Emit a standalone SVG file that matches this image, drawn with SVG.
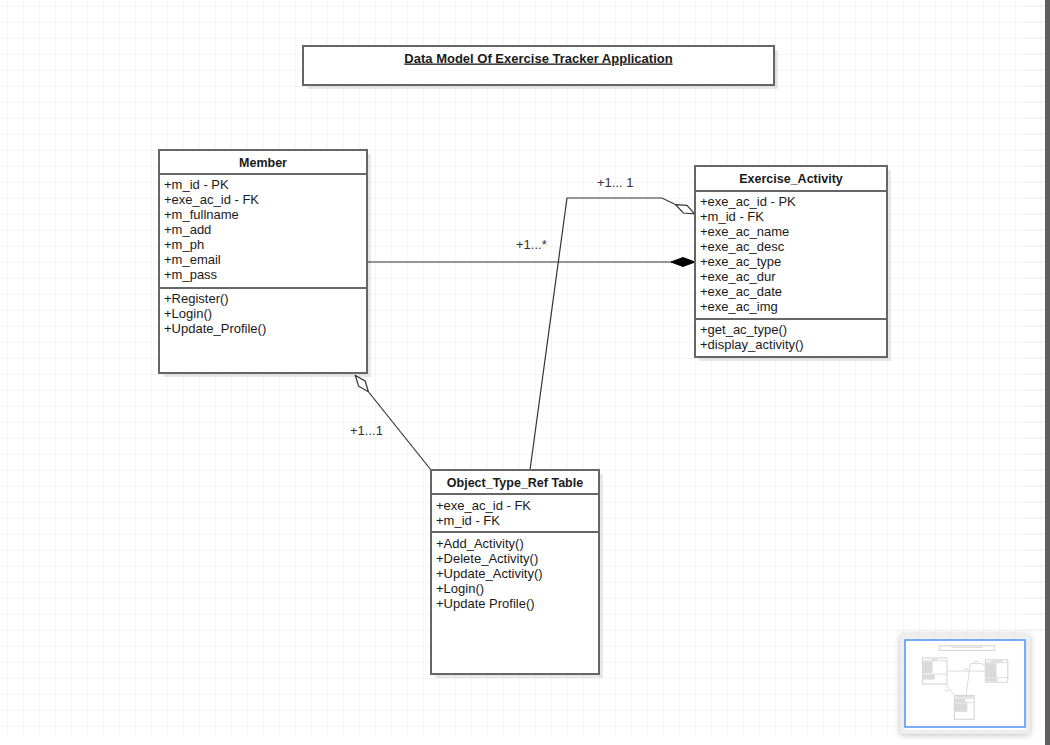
<svg xmlns="http://www.w3.org/2000/svg" width="1050" height="745" viewBox="0 0 1050 745">
  <style>
    .box { fill: #ffffff; stroke: #666666; stroke-width: 2; }
    .sep { stroke: #666666; stroke-width: 2; }
    .shadow { fill: #000000; fill-opacity: 0.09; }
    .hdr { font-family: "Liberation Sans", Arial, sans-serif; font-size: 12.5px; font-weight: bold; fill: #1a1a1a; text-anchor: middle; }
    .ttl { font-size: 13px; }
    .txt { font-family: "Liberation Sans", Arial, sans-serif; font-size: 13px; fill: #1a1a1a; }
    .lbl { font-family: "Liberation Sans", Arial, sans-serif; font-size: 13px; fill: #333333; }
    .conn { fill: none; stroke: #333333; stroke-width: 1.2; }
    .mini { fill: #ffffff; stroke: #d4d4d4; stroke-width: 9; }
    .minil { fill: none; stroke: #d8d8d8; stroke-width: 8; }
    .minit { fill: #dadada; }
  </style>
  <defs>
    <pattern id="grid" x="7" y="6" width="16" height="16" patternUnits="userSpaceOnUse">
      <path d="M0,0 H16 M0,0 V16" fill="none" stroke="#ebebeb" stroke-width="1"/>
    </pattern>
    <marker id="openDiamond" viewBox="0 0 22 10" refX="22" refY="5" markerWidth="22" markerHeight="10" markerUnits="userSpaceOnUse" orient="auto">
      <path d="M0.5,5 L11,0.8 L21.5,5 L11,9.2 Z" fill="#ffffff" stroke="#333333" stroke-width="1.2"/>
    </marker>
    <marker id="filledDiamond" viewBox="0 0 24 10" refX="24" refY="5" markerWidth="24" markerHeight="10" markerUnits="userSpaceOnUse" orient="auto">
      <path d="M0,5 L12,0.5 L24,5 L12,9.5 Z" fill="#000000" stroke="#000000" stroke-width="1"/>
    </marker>
    <filter id="panelShadow" x="-20%" y="-20%" width="140%" height="140%">
      <feGaussianBlur stdDeviation="3"/>
    </filter>
  </defs>

  <!-- background grid -->
  <rect x="0" y="0" width="1050" height="745" fill="#ffffff"/>
  <rect x="0" y="0" width="1024" height="735" fill="url(#grid)"/>
  <path d="M1024,6 H1045 M1024,22 H1045 M1024,38 H1045 M1024,54 H1045 M1024,70 H1045 M1024,86 H1045 M1024,102 H1045 M1024,118 H1045 M1024,134 H1045 M1024,150 H1045 M1024,166 H1045 M1024,182 H1045 M1024,198 H1045 M1024,214 H1045 M1024,230 H1045 M1024,246 H1045 M1024,262 H1045 M1024,278 H1045 M1024,294 H1045 M1024,310 H1045 M1024,326 H1045 M1024,342 H1045 M1024,358 H1045 M1024,374 H1045 M1024,390 H1045 M1024,406 H1045 M1024,422 H1045 M1024,438 H1045 M1024,454 H1045 M1024,470 H1045 M1024,486 H1045 M1024,502 H1045 M1024,518 H1045 M1024,534 H1045 M1024,550 H1045 M1024,566 H1045 M1024,582 H1045 M1024,598 H1045 M1024,614 H1045 M1024,630 H1045" stroke="#ebebeb" stroke-width="1"/>
  <rect x="1045" y="0" width="5" height="745" fill="#5f5f5f"/>

  <!-- connectors -->
  <g id="connectors">
    <path id="conn-member-exercise" class="conn" d="M367,262 L695,262" marker-end="url(#filledDiamond)"/>
    <path id="conn-object-exercise" class="conn" d="M530,470 L567,198 L662,198 L695,214" marker-end="url(#openDiamond)"/>
    <path id="conn-object-member" class="conn" d="M431,470 L355,375" marker-end="url(#openDiamond)"/>
    <text class="lbl" x="516" y="249">+1...*</text>
    <text class="lbl" x="597" y="187">+1... 1</text>
    <text class="lbl" x="350" y="435">+1...1</text>
  </g>

  <!-- title -->
  <g id="title">
    <rect class="shadow" x="307" y="50" width="471" height="39"/>
    <rect class="box" x="303" y="46" width="471" height="39"/>
    <text class="hdr ttl" x="538.5" y="62.5" text-decoration="underline">Data Model Of Exercise Tracker Application</text>
  </g>

  <!-- Member -->
  <g id="member">
    <rect class="shadow" x="163" y="154" width="208" height="223"/>
    <rect class="box" x="159" y="150" width="208" height="223"/>
    <line class="sep" x1="159" y1="174" x2="367" y2="174"/>
    <line class="sep" x1="159" y1="288" x2="367" y2="288"/>
    <text class="hdr" x="263" y="167">Member</text>
    <text class="txt" x="164" y="189">+m_id - PK</text>
    <text class="txt" x="164" y="204">+exe_ac_id - FK</text>
    <text class="txt" x="164" y="219">+m_fullname</text>
    <text class="txt" x="164" y="234">+m_add</text>
    <text class="txt" x="164" y="249">+m_ph</text>
    <text class="txt" x="164" y="264">+m_email</text>
    <text class="txt" x="164" y="279">+m_pass</text>
    <text class="txt" x="164" y="302.5">+Register()</text>
    <text class="txt" x="164" y="317.5">+Login()</text>
    <text class="txt" x="164" y="332.5">+Update_Profile()</text>
  </g>

  <!-- Exercise_Activity -->
  <g id="exercise-activity">
    <rect class="shadow" x="699" y="170" width="192" height="191"/>
    <rect class="box" x="695" y="166" width="192" height="191"/>
    <line class="sep" x1="695" y1="191" x2="887" y2="191"/>
    <line class="sep" x1="695" y1="319" x2="887" y2="319"/>
    <text class="hdr" x="791" y="183">Exercise_Activity</text>
    <text class="txt" x="700" y="205.5">+exe_ac_id - PK</text>
    <text class="txt" x="700" y="220.5">+m_id - FK</text>
    <text class="txt" x="700" y="235.5">+exe_ac_name</text>
    <text class="txt" x="700" y="250.5">+exe_ac_desc</text>
    <text class="txt" x="700" y="265.5">+exe_ac_type</text>
    <text class="txt" x="700" y="280.5">+exe_ac_dur</text>
    <text class="txt" x="700" y="295.5">+exe_ac_date</text>
    <text class="txt" x="700" y="310.5">+exe_ac_img</text>
    <text class="txt" x="700" y="333.5">+get_ac_type()</text>
    <text class="txt" x="700" y="348.5">+display_activity()</text>
  </g>

  <!-- Object_Type_Ref Table -->
  <g id="object-type-ref">
    <rect class="shadow" x="435" y="474" width="168" height="204"/>
    <rect class="box" x="431" y="470" width="168" height="204"/>
    <line class="sep" x1="431" y1="494" x2="599" y2="494"/>
    <line class="sep" x1="431" y1="532" x2="599" y2="532"/>
    <text class="hdr" x="515" y="487">Object_Type_Ref Table</text>
    <text class="txt" x="436" y="509.5">+exe_ac_id - FK</text>
    <text class="txt" x="436" y="524.5">+m_id - FK</text>
    <text class="txt" x="436" y="547.5">+Add_Activity()</text>
    <text class="txt" x="436" y="562.5">+Delete_Activity()</text>
    <text class="txt" x="436" y="577.5">+Update_Activity()</text>
    <text class="txt" x="436" y="592.5">+Login()</text>
    <text class="txt" x="436" y="607.5">+Update Profile()</text>
  </g>

  <!-- outline (minimap) -->
  <g id="minimap">
    <rect x="900" y="635" width="130" height="100" fill="#000000" fill-opacity="0.25" filter="url(#panelShadow)"/>
    <rect x="900" y="634" width="130" height="100" fill="#eeeeee"/>
    <rect x="905" y="640" width="120" height="90" fill="#ffffff"/>
    <g transform="translate(904,640.4) scale(0.117)">
      <path class="minil" d="M367,262 L695,262 M530,470 L567,198 L662,198 L695,214 M431,470 L355,375"/>
      <rect class="mini" x="303" y="46" width="471" height="39"/>
      <rect class="minit" x="404" y="52" width="268" height="12"/>
      <rect class="mini" x="159" y="150" width="208" height="223"/>
      <path class="minil" d="M159,174 H367 M159,288 H367"/>
      <rect class="minit" x="238" y="157" width="50" height="12"/>
      <rect class="minit" x="164" y="180" width="80" height="100"/>
      <rect class="minit" x="164" y="293" width="100" height="42"/>
      <rect class="mini" x="695" y="166" width="192" height="191"/>
      <path class="minil" d="M695,191 H887 M695,319 H887"/>
      <rect class="minit" x="737" y="172" width="108" height="12"/>
      <rect class="minit" x="700" y="196" width="90" height="118"/>
      <rect class="minit" x="700" y="324" width="100" height="27"/>
      <rect class="mini" x="431" y="470" width="168" height="204"/>
      <path class="minil" d="M431,494 H599 M431,532 H599"/>
      <rect class="minit" x="444" y="476" width="142" height="12"/>
      <rect class="minit" x="436" y="499" width="90" height="28"/>
      <rect class="minit" x="436" y="538" width="105" height="72"/>
      <rect class="minit" x="516" y="238" width="30" height="10"/>
      <rect class="minit" x="597" y="176" width="36" height="10"/>
      <rect class="minit" x="350" y="424" width="32" height="10"/>
    </g>
    <rect x="905" y="640" width="120" height="87" fill="none" stroke="#4d90fe" stroke-width="1.5"/>
  </g>
</svg>
